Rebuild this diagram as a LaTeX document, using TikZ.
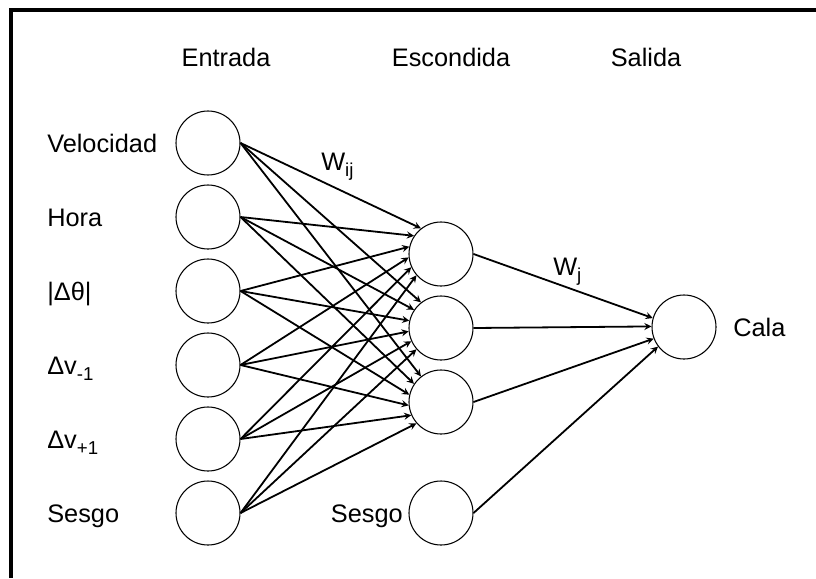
\documentclass[tikz,border=0pt]{standalone}
\usepackage{fontspec}
\setmainfont{Liberation Sans}
\usepackage{tikz}
\usetikzlibrary{positioning,arrows,calc}
\definecolor{ink}{HTML}{000000}
\newcommand{\lowsub}[1]{\raisebox{-0.5ex}{\fontsize{14}{14}\selectfont #1}}
\tikzset{
  >=stealth,
  % --- nodes
  neuron/.style = {circle, draw=ink, line width=0.8pt, fill=white,
                   minimum size=48pt, inner sep=0pt},
  lbl/.style    = {font=\fontsize{19}{23}\selectfont, text=ink, inner sep=0pt},
  % --- edges
  e/.style      = {-stealth, draw=ink, line width=1.35pt},
  frame/.style  = {draw=ink, line width=2.3pt},
}

\begin{document}
\begin{tikzpicture}[x=0.75pt,y=-0.75pt]
  \useasboundingbox (0,0) rectangle (816,578);
  \draw[frame] (11,578) -- (11,10) -- (816,10);

  \node[lbl, anchor=base] (tin)  at (226,66) {Entrada};
  \node[lbl, anchor=base] (thid) at (451,66) {Escondida};
  \node[lbl, anchor=base] (tout) at (646,66) {Salida};

  % --- capa de entrada
  \node[neuron] (vel)    at (208,143) {};
  \node[neuron] (hora)   at (208,217) {};
  \node[neuron] (dtheta) at (208,291) {};
  \node[neuron] (dvmin)  at (208,365) {};
  \node[neuron] (dvplus) at (208,439) {};
  \node[neuron] (biasin) at (208,513) {};

  \node[lbl, anchor=base west] (lvel)    at (47,152) {Velocidad};
  \node[lbl, anchor=base west] (lhora)   at (47,226) {Hora};
  \node[lbl, anchor=base west] (ldtheta) at (47,300) {|Δθ|};
  \node[lbl, anchor=base west] (ldvmin)  at (47,374) {Δv\lowsub{-1}};
  \node[lbl, anchor=base west] (ldvplus) at (47,448) {Δv\lowsub{+1}};
  \node[lbl, anchor=base west] (lbiasin) at (47,522) {Sesgo};

  % --- capa escondida
  \node[neuron] (hid1)    at (441,254) {};
  \node[neuron] (hid2)    at (441,328) {};
  \node[neuron] (hid3)    at (441,402) {};
  \node[neuron] (biashid) at (441,513) {};
  \node[lbl, anchor=base east] (lbiashid) at (403,522) {Sesgo};

  % --- salida
  \node[neuron] (cala) at (684,327) {};
  \node[lbl, anchor=base west] (lcala) at (733,336) {Cala};

  \node[lbl, anchor=base west] (wij) at (321,170) {W\lowsub{ij}};
  \node[lbl, anchor=base west] (wj)  at (553,275) {W\lowsub{j}};

  \draw[e] (vel.east)    -- (hid1.128);
  \draw[e] (hora.east)   -- (hid1.146);
  \draw[e] (dtheta.east) -- (hid1.167);
  \draw[e] (dvmin.east)  -- (hid1.186);
  \draw[e] (dvplus.east) -- (hid1.204);
  \draw[e] (biasin.east) -- (hid1.221);

  \draw[e] (vel.east)    -- (hid2.128);
  \draw[e] (hora.east)   -- (hid2.146);
  \draw[e] (dtheta.east) -- (hid2.167);
  \draw[e] (dvmin.east)  -- (hid2.186);
  \draw[e] (dvplus.east) -- (hid2.204);
  \draw[e] (biasin.east) -- (hid2.221);

  \draw[e] (vel.east)    -- (hid3.128);
  \draw[e] (hora.east)   -- (hid3.146);
  \draw[e] (dtheta.east) -- (hid3.167);
  \draw[e] (dvmin.east)  -- (hid3.186);
  \draw[e] (dvplus.east) -- (hid3.204);
  \draw[e] (biasin.east) -- (hid3.221);

  \draw[e] (hid1.east)    -- (cala.164);
  \draw[e] (hid2.east)    -- (cala.179);
  \draw[e] (hid3.east)    -- (cala.201);
  \draw[e] (biashid.east) -- (cala.217);
\end{tikzpicture}
\end{document}
